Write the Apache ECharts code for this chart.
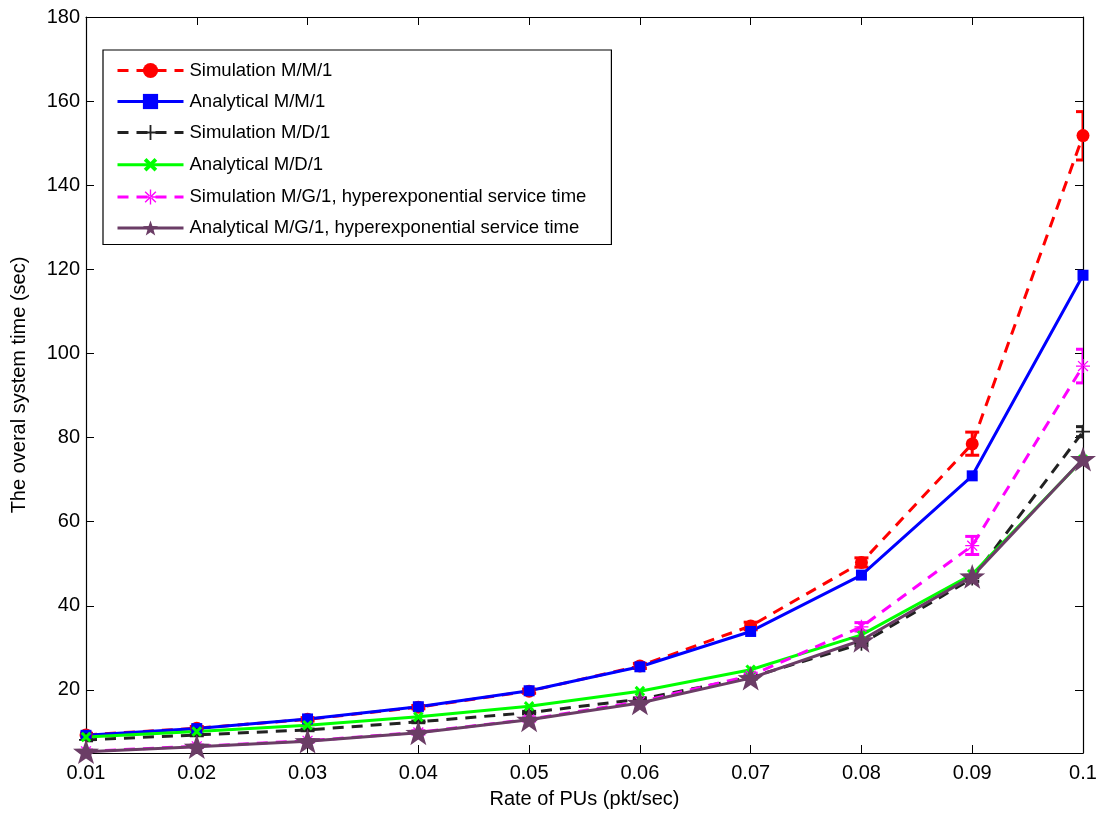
<!DOCTYPE html>
<html>
<head>
<meta charset="utf-8">
<script src="https://cdn.jsdelivr.net/npm/echarts@6/dist/echarts.min.js"></script>
<style>
html,body{margin:0;padding:0;background:#fff;}
#chart{width:1104px;height:817px;}
</style>
</head>
<body>
<div id="chart"></div>
<script>
// ---- data ----
const rates = [0.01, 0.02, 0.03, 0.04, 0.05, 0.06, 0.07, 0.08, 0.09, 0.1];
const yTicks = [20, 40, 60, 80, 100, 120, 140, 160, 180];
const simMM1 = [9.3, 10.9, 13.0, 15.9, 19.7, 25.7, 35.2, 50.3, 78.5, 151.8];
const anaMM1 = [9.2, 10.8, 13.1, 16.0, 19.8, 25.5, 33.9, 47.3, 70.9, 118.6];
const simMD1 = [8.1, 9.3, 10.5, 12.4, 14.6, 17.8, 23.0, 31.0, 46.5, 81.4];
const anaMD1 = [8.8, 10.1, 11.6, 13.6, 16.1, 19.7, 24.8, 33.1, 47.5, 74.8];
const simMG1 = [5.4, 6.6, 7.9, 9.9, 13.0, 17.2, 23.4, 35.0, 54.3, 97.0];
const anaMG1 = [5.3, 6.5, 7.8, 9.8, 12.9, 16.9, 22.8, 31.8, 47.0, 74.9];
// error bar bounds of simulations
const errMM1Lo = [8.9, 10.5, 12.6, 15.5, 19.2, 25.1, 34.3, 49.2, 75.8, 146.0];
const errMM1Hi = [9.7, 11.3, 13.4, 16.3, 20.2, 26.3, 36.1, 51.4, 81.3, 157.5];
const errMD1Lo = [7.9, 9.1, 10.3, 12.2, 14.3, 17.5, 22.6, 30.5, 45.8, 80.2];
const errMD1Hi = [8.3, 9.5, 10.7, 12.6, 14.9, 18.1, 23.4, 31.5, 47.2, 82.6];
const errMG1Lo = [5.1, 6.3, 7.6, 9.5, 12.6, 16.7, 22.8, 34.0, 52.2, 93.0];
const errMG1Hi = [5.7, 6.9, 8.2, 10.3, 13.4, 17.7, 24.0, 36.0, 56.5, 101.0];
const names = [
  'Simulation M/M/1',
  'Analytical M/M/1',
  'Simulation M/D/1',
  'Analytical M/D/1',
  'Simulation M/G/1, hyperexponential service time',
  'Analytical M/G/1, hyperexponential service time'
];

// ---- helpers ----
const pair = (ys) => rates.map((x, i) => [x, ys[i]]);
const triple = (lo, hi) => rates.map((x, i) => [x, lo[i], hi[i]]);
const FONT = 'Liberation Sans, Arial, Helvetica, sans-serif';

const PLUS = 'path://M-1.2,-10 H1.2 V-1.2 H10 V1.2 H1.2 V10 H-1.2 V1.2 H-10 V-1.2 H-1.2 Z';
const XMARK = 'path://M-2.5,-10 H2.5 V-2.5 H10 V2.5 H2.5 V10 H-2.5 V2.5 H-10 V-2.5 H-2.5 Z';
const ASTER = 'path://M-0.9,-10 H0.9 V10 H-0.9 Z M-10,-0.9 H10 V0.9 H-10 Z M-7.7,-6.4 L6.4,7.7 L7.7,6.4 L-6.4,-7.7 Z M7.7,-6.4 L-6.4,7.7 L-7.7,6.4 L6.4,-7.7 Z';
const STAR = 'path://M0,-10 L2.35,-3.24 L9.51,-3.09 L3.80,1.24 L5.88,8.09 L0,4 L-5.88,8.09 L-3.80,1.24 L-9.51,-3.09 L-2.35,-3.24 Z';

function errSeries(lo, hi, color) {
  return {
    type: 'custom',
    data: triple(lo, hi),
    encode: { x: 0, y: [1, 2] },
    clip: true,
    silent: true,
    renderItem: function (params, api) {
      const x = api.value(0), l = api.value(1), h = api.value(2);
      const pL = api.coord([x, l]), pH = api.coord([x, h]);
      const w = 7;
      const style = { stroke: color, lineWidth: 3, fill: null };
      return {
        type: 'group',
        children: [
          { type: 'line', shape: { x1: pL[0], y1: pL[1], x2: pH[0], y2: pH[1] }, style: style },
          { type: 'line', shape: { x1: pL[0] - w, y1: pL[1], x2: pL[0] + w, y2: pL[1] }, style: style },
          { type: 'line', shape: { x1: pH[0] - w, y1: pH[1], x2: pH[0] + w, y2: pH[1] }, style: style }
        ]
      };
    }
  };
}

function lineSeries(name, ys, color, dashed, symbol, size, extra) {
  return Object.assign({
    name: name,
    type: 'line',
    data: pair(ys),
    symbol: symbol,
    symbolSize: size,
    symbolKeepAspect: true,
    showAllSymbol: true,
    lineStyle: { color: color, width: 3, type: dashed ? [11, 8] : 'solid' },
    itemStyle: { color: color, borderColor: color, borderWidth: 0 },
    emphasis: { disabled: true },
    clip: false
  }, extra || {});
}

const axisCommon = {
  axisLine: { show: true, onZero: false, lineStyle: { color: '#000', width: 1.2 } },
  splitLine: { show: false }
};

const chart = echarts.init(document.getElementById('chart'), null, { renderer: 'canvas' });
chart.setOption({
  animation: false,
  backgroundColor: '#fff',
  textStyle: { fontFamily: FONT },
  grid: { left: 86, right: 21, top: 17, bottom: 64, containLabel: false },
  legend: {
    data: names,
    orient: 'vertical',
    left: 103,
    top: 50,
    itemWidth: 66,
    itemHeight: 19,
    itemGap: 12,
    padding: [11, 25, 7, 13],
    borderColor: '#000',
    borderWidth: 1.2,
    backgroundColor: '#fff',
    lineStyle: { width: 3 },
    textStyle: { fontFamily: FONT, fontSize: 18.5, color: '#000', padding: [0, 0, 0, 1] },
    selectedMode: false
  },
  xAxis: [
    Object.assign({}, axisCommon, {
      type: 'value', position: 'bottom', min: 0.01, max: 0.1, interval: 0.01,
      axisTick: { show: true, inside: true, length: 8, lineStyle: { color: '#000' } },
      axisLabel: {
        show: true, fontFamily: FONT, fontSize: 20, color: '#000', margin: 10,
        formatter: (v) => String(+v.toFixed(2))
      },
      name: 'Rate of PUs (pkt/sec)', nameLocation: 'middle', nameGap: 36,
      nameTextStyle: { fontFamily: FONT, fontSize: 20, color: '#000' }
    }),
    Object.assign({}, axisCommon, {
      type: 'value', position: 'top', min: 0.01, max: 0.1, interval: 0.01,
      axisTick: { show: true, inside: true, length: 8, lineStyle: { color: '#000' } },
      axisLabel: { show: false }
    })
  ],
  yAxis: [
    Object.assign({}, axisCommon, {
      type: 'value', position: 'left', min: 5, max: 180,
      axisTick: { show: true, inside: true, length: 8, customValues: yTicks, lineStyle: { color: '#000' } },
      axisLabel: { show: true, customValues: yTicks, fontFamily: FONT, fontSize: 20, color: '#000', margin: 6 },
      name: 'The overal system time (sec)', nameLocation: 'middle', nameGap: 57,
      nameTextStyle: { fontFamily: FONT, fontSize: 20, color: '#000' }
    }),
    Object.assign({}, axisCommon, {
      type: 'value', position: 'right', min: 5, max: 180,
      axisTick: { show: true, inside: true, length: 8, customValues: yTicks, lineStyle: { color: '#000' } },
      axisLabel: { show: false, customValues: yTicks }
    })
  ],
  series: [
    lineSeries(names[0], simMM1, '#ff0000', true, 'circle', 13),
    errSeries(errMM1Lo, errMM1Hi, '#ff0000'),
    lineSeries(names[1], anaMM1, '#0000ff', false, 'rect', 11),
    lineSeries(names[2], simMD1, '#222222', true, PLUS, 14),
    errSeries(errMD1Lo, errMD1Hi, '#222222'),
    lineSeries(names[3], anaMD1, '#00ff00', false, XMARK, 12, { symbolRotate: 45 }),
    lineSeries(names[4], simMG1, '#ff00ff', true, ASTER, 14),
    errSeries(errMG1Lo, errMG1Hi, '#ff00ff'),
    lineSeries(names[5], anaMG1, '#6b3d66', false, STAR, 26)
  ]
});
</script>
</body>
</html>
